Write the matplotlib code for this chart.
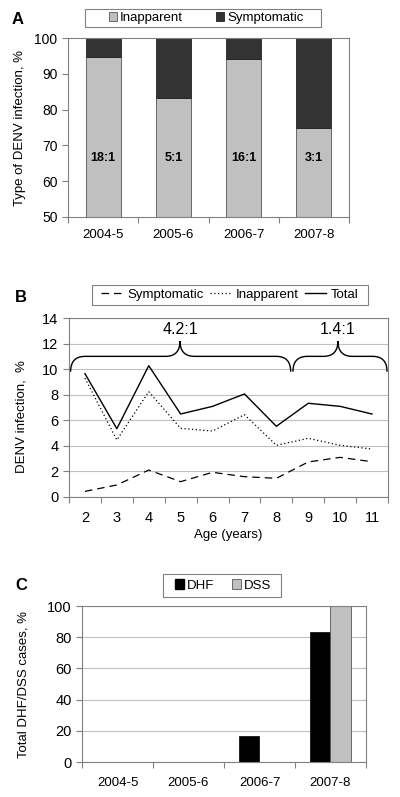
import matplotlib
matplotlib.use("Agg")
import matplotlib.pyplot as plt
import numpy as np
from matplotlib.path import Path
from matplotlib.patches import PathPatch, Patch, Rectangle
from matplotlib.lines import Line2D

plt.rcParams['font.family'] = ['Liberation Sans', 'DejaVu Sans']

# Panel A data
seasons = ["2004-5", "2005-6", "2006-7", "2007-8"]
inapparent_pct = [94.7, 83.3, 94.1, 75.0]
ratio_labels = ["18:1", "5:1", "16:1", "3:1"]

# Panel B data
ages = [2, 3, 4, 5, 6, 7, 8, 9, 10, 11]
symptomatic = [0.44, 0.94, 2.11, 1.2, 1.93, 1.59, 1.46, 2.74, 3.1, 2.76]
inapparent = [9.3, 4.46, 8.24, 5.37, 5.16, 6.44, 4.04, 4.59, 4.04, 3.75]
total = [9.65, 5.34, 10.27, 6.49, 7.09, 8.06, 5.53, 7.33, 7.09, 6.49]
brace_labels = ["4.2:1", "1.4:1"]

# Panel C data
dhf = [0, 0, 16.7, 83.3]
dss = [0, 0, 0, 100]

GRAY = "#c0c0c0"
DARK = "#333333"
SPINE = "#808080"
YFS = 9.5
XFS = 9.0
LFS = 9.5

W, H = 400, 797
fig = plt.figure(figsize=(4, 7.97), dpi=100)

def axrect(l, r, t, b):
    return [l / W, 1 - b / H, (r - l) / W, (b - t) / H]

def style(ax, yfs=YFS, xfs=XFS):
    for s in ax.spines.values():
        s.set_color(SPINE)
        s.set_linewidth(0.8)
    ax.tick_params(axis='y', colors='black', labelsize=yfs, length=4, width=0.8,
                   direction='out', color=SPINE)
    ax.tick_params(axis='x', labelsize=xfs)

def frame_box(l, r, t, b):
    fig.patches.append(Rectangle((l / W, 1 - b / H), (r - l) / W, (b - t) / H,
                                 transform=fig.transFigure, facecolor='white',
                                 edgecolor=SPINE, linewidth=0.8, zorder=1))

# ---------- Panel A ----------
axA = fig.add_axes(axrect(68, 349, 38, 217))
x = np.arange(len(seasons))
symp_pct = [100 - v for v in inapparent_pct]
axA.bar(x, inapparent_pct, width=0.5, color=GRAY, edgecolor="#555555", linewidth=0.6, zorder=2)
axA.bar(x, symp_pct, bottom=inapparent_pct, width=0.5, color=DARK, edgecolor="#222222",
        linewidth=0.6, zorder=2)
for xi, lab in zip(x, ratio_labels):
    axA.text(xi, 66.5, lab, ha='center', va='center', fontsize=9, fontweight='bold')
axA.set_ylim(50, 100)
axA.set_xlim(-0.5, 3.5)
axA.set_yticks(range(50, 101, 10))
axA.set_xticks(x)
axA.set_xticklabels(seasons)
axA.set_xticks(np.arange(-0.5, 4.0, 1.0), minor=True)
style(axA, 10, 9.5)
axA.tick_params(axis='x', which='major', length=0, pad=9)
axA.tick_params(axis='x', which='minor', length=4, color=SPINE, width=0.8)
axA.set_ylabel("Type of DENV infection, %", fontsize=YFS)
axA.yaxis.set_label_coords((26 - 68) / 281, 0.5)
frame_box(85, 321, 9, 27)
hA = [Patch(facecolor=GRAY, edgecolor="#555555", linewidth=0.6),
      Patch(facecolor=DARK, edgecolor="#222222", linewidth=0.6)]
fig.legend(hA, ["Inapparent", "Symptomatic"], loc='center',
           bbox_to_anchor=(206 / W, 1 - 18 / H), ncol=2, fontsize=LFS,
           frameon=False, handlelength=0.6, handleheight=0.6, handletextpad=0.25,
           columnspacing=2.5, borderpad=0.1)
fig.text(18 / W, 1 - 20 / H, "A", fontsize=12, fontweight='bold', ha='center', va='center')

# ---------- Panel B ----------
axB = fig.add_axes(axrect(69, 388, 318, 497))
xb = np.arange(len(ages))
dash = (0, (6, 4))
dots = (0, (1, 2))
axB.plot(xb, symptomatic, color='black', linestyle=dash, linewidth=0.9)
axB.plot(xb, inapparent, color='black', linestyle=dots, linewidth=0.9)
axB.plot(xb, total, color='black', linestyle='-', linewidth=1.0)
axB.set_ylim(0, 14)
axB.set_xlim(-0.5, len(ages) - 0.5)
axB.set_yticks(range(0, 15, 2))
axB.grid(axis='y', color=GRAY, linewidth=0.8, zorder=0)
axB.set_axisbelow(True)
axB.set_xticks(xb)
axB.set_xticklabels([str(a) for a in ages])
axB.set_xticks(np.arange(-0.5, len(ages), 1.0), minor=True)
style(axB, 10.5, 10.5)
axB.tick_params(axis='x', which='major', length=0, pad=10)
axB.tick_params(axis='x', which='minor', length=4, color=SPINE, width=0.8)
axB.set_xlabel("Age (years)", fontsize=YFS, labelpad=3)
axB.set_ylabel("DENV infection,  %", fontsize=YFS)
axB.yaxis.set_label_coords((28 - 69) / 319, (497 - 417) / 179)


def brace(ax, x0, x1, xm, yb, yh, yp, r):
    verts = [(x0, yb), (x0, yh), (x0 + r, yh),
             (xm - r, yh),
             (xm, yh), (xm, yp),
             (xm, yh), (xm + r, yh),
             (x1 - r, yh),
             (x1, yh), (x1, yb)]
    codes = [Path.MOVETO, Path.CURVE3, Path.CURVE3,
             Path.LINETO,
             Path.CURVE3, Path.CURVE3,
             Path.CURVE3, Path.CURVE3,
             Path.LINETO,
             Path.CURVE3, Path.CURVE3]
    ax.add_patch(PathPatch(Path(verts, codes), facecolor='none', edgecolor='black',
                           linewidth=1.0, clip_on=False))

brace(axB, -0.45, 6.45, 2.98, 9.8, 11.0, 12.2, 0.45)
brace(axB, 6.52, 9.47, 7.93, 9.8, 11.0, 12.2, 0.45)
axB.text(2.98, 13.1, brace_labels[0], ha='center', va='center', fontsize=11.5)
axB.text(7.93, 13.1, brace_labels[1], ha='center', va='center', fontsize=11.5)

frame_box(92, 368, 285, 305)
hB = [Line2D([], [], color='black', linestyle=dash, linewidth=0.9),
      Line2D([], [], color='black', linestyle=dots, linewidth=0.9),
      Line2D([], [], color='black', linestyle='-', linewidth=1.0)]
fig.legend(hB, ["Symptomatic", "Inapparent", "Total"], loc='center',
           bbox_to_anchor=(230 / W, 1 - 295 / H), ncol=3, fontsize=LFS,
           frameon=False, handlelength=1.6, handletextpad=0.35,
           columnspacing=0.5, borderpad=0.1)
fig.text(21 / W, 1 - 297 / H, "B", fontsize=12, fontweight='bold', ha='center', va='center')

# ---------- Panel C ----------
axC = fig.add_axes(axrect(82, 366, 606, 762))
xc = np.arange(len(seasons))
bw = 0.29
axC.bar(xc - bw / 2, dhf, width=bw, color='black', edgecolor='black', linewidth=0.5, zorder=2)
axC.bar(xc + bw / 2, dss, width=bw, color=GRAY, edgecolor='#555555', linewidth=0.6, zorder=2)
axC.set_ylim(0, 100)
axC.set_xlim(-0.5, 3.5)
axC.set_yticks(range(0, 101, 20))
axC.grid(axis='y', color=GRAY, linewidth=0.8, zorder=0)
axC.set_axisbelow(True)
axC.set_xticks(xc)
axC.set_xticklabels(seasons)
axC.set_xticks(np.arange(-0.5, 4.0, 1.0), minor=True)
style(axC, 10.5, 9.5)
axC.tick_params(axis='x', which='major', length=0, pad=11)
axC.tick_params(axis='x', which='minor', length=4, color=SPINE, width=0.8)
axC.set_ylabel("Total DHF/DSS cases, %", fontsize=YFS)
axC.yaxis.set_label_coords((29 - 82) / 284, 0.5)
frame_box(163, 281, 574, 597)
hC = [Patch(facecolor='black', edgecolor='black'),
      Patch(facecolor=GRAY, edgecolor="#555555", linewidth=0.6)]
fig.legend(hC, ["DHF", "DSS"], loc='center',
           bbox_to_anchor=(223 / W, 1 - 585.5 / H), ncol=2, fontsize=LFS,
           frameon=False, handlelength=0.7, handleheight=0.7, handletextpad=0.25,
           columnspacing=1.3, borderpad=0.1)
fig.text(21 / W, 1 - 585 / H, "C", fontsize=12, fontweight='bold', ha='center', va='center')

fig.savefig("out.png", dpi=100)
